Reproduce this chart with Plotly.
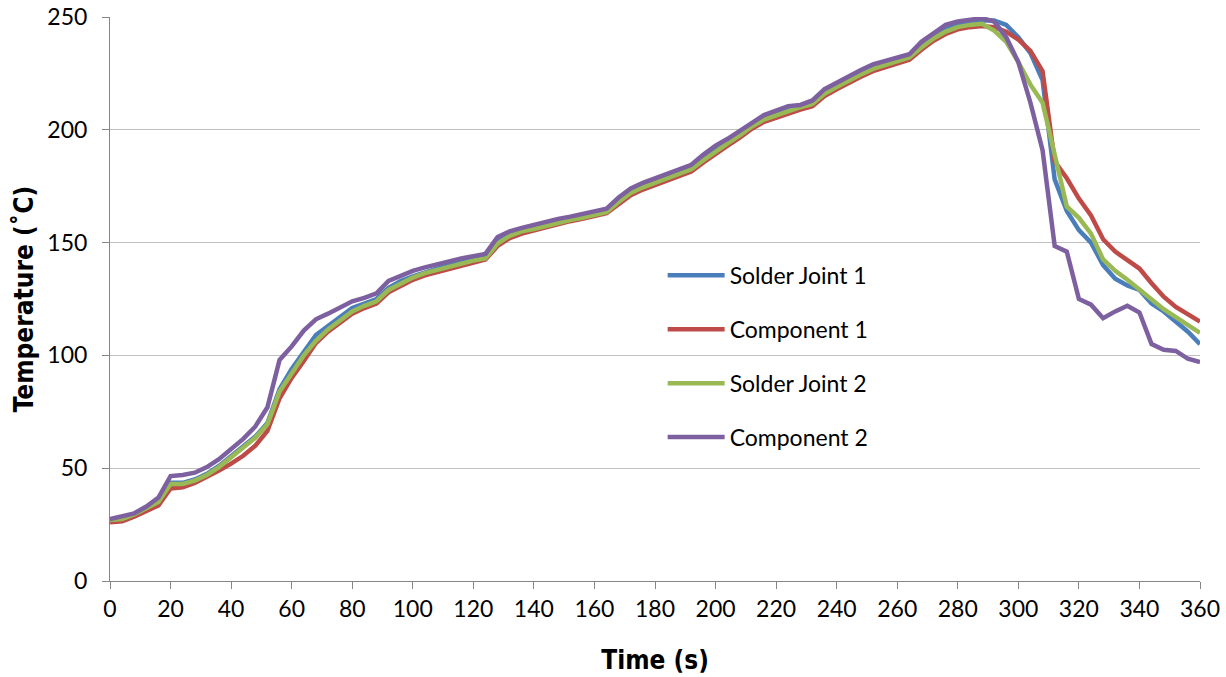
import plotly.graph_objects as go

# Reflow profile: time (s) and measured temperatures (°C)
time_s = list(range(0, 361, 4))

solder_joint_1 = [
    27, 27.5, 29.5, 32, 35, 43.5, 43.5, 45, 47.5, 51,
    55.5, 59.5, 64, 70, 85, 94, 101.5, 109, 113, 117,
    121, 123, 125, 130, 133, 135, 137, 138.5, 140, 141.5,
    142.5, 143.5, 150.5, 153.5, 155, 156.5, 158, 159.5, 160.5, 161.5,
    162.5, 164, 168.5, 172.5, 175, 177, 179, 181.5, 183, 187.5,
    191.5, 194.5, 198, 202, 205, 207, 209, 210, 212, 216.5,
    219.5, 222.5, 225, 227.5, 229, 230.5, 232.5, 237.5, 241.5, 244.5,
    246.5, 247.5, 248.5, 248.5, 246.5, 241, 234, 222, 178, 164,
    155.5, 150, 140, 134, 131, 129, 123, 119.5, 115, 110.5,
    105,
]

component_1 = [
    26, 26.5, 28.5, 31, 33.5, 41, 41.5, 43.5, 46, 49,
    52, 55.5, 60, 66.5, 81, 90, 97.5, 105.5, 110.5, 114.5,
    118.5, 121, 123, 128, 131, 133.5, 135.5, 137, 138.5, 140,
    141.5, 142.5, 148.5, 152, 154, 155.5, 157, 158.5, 159.5, 160.5,
    161.5, 163, 167, 171, 173.5, 175.5, 177.5, 180, 181.5, 185.5,
    189.5, 193, 196.5, 200.5, 203.5, 205.5, 207.5, 209, 210.5, 215,
    218, 221, 223.5, 226, 227.5, 229, 231, 235.5, 239.5, 242.5,
    244.5, 245.5, 246, 245.5, 243.5, 240, 235, 226, 186, 178.5,
    169.5, 162, 151.5, 146, 142, 138.5, 132, 126, 121.5, 118,
    115,
]

solder_joint_2 = [
    27, 27.5, 29.5, 32, 35, 43, 43, 44.5, 47, 50.5,
    55, 59, 63.5, 69.5, 84, 92, 100, 106.5, 111.5, 115.5,
    119.5, 122, 124, 129, 132, 134.5, 136.5, 138, 139.5, 141,
    142, 143, 149.5, 153, 155, 156, 157.5, 159, 160, 161,
    162, 163.5, 168, 172, 174.5, 176.5, 178.5, 181, 182.5, 186.5,
    190.5, 194, 197.5, 201.5, 204.5, 206.5, 208.5, 210, 211.5, 216,
    219, 222, 224.5, 227, 228.5, 230, 232, 236.5, 240.5, 243.5,
    245.5, 246.5, 247, 244, 239, 230, 220, 212, 188, 166,
    161, 154, 142.5, 137.5, 133.5, 129, 124.5, 120.5, 117, 113.5,
    110,
]

component_2 = [
    27.5, 28.5, 30, 33, 37, 46.5, 47, 48, 50.5, 54,
    58.5, 63, 68.5, 77, 98, 104, 111, 116, 118.5, 121.5,
    124, 125.5, 127.5, 133, 135.5, 137.5, 139, 140.5, 141.5, 143,
    144, 145, 152.5, 155, 156.5, 158, 159.5, 160.5, 161.5, 162.5,
    163.5, 165, 170, 174, 176.5, 178.5, 180.5, 183, 184.5, 189,
    193, 196, 199.5, 203.5, 206.5, 208.5, 210.5, 211, 213, 218,
    221, 224, 226.5, 229, 230.5, 232, 233.5, 239, 243, 246.5,
    248, 249, 249.5, 248, 241, 230, 212, 191, 148.5, 146,
    125, 122.5, 116.5, 119.5, 122, 119, 105, 102.5, 102, 98.5,
    97,
]

series_names = ["Solder Joint 1", "Component 1", "Solder Joint 2", "Component 2"]
series_values = [solder_joint_1, component_1, solder_joint_2, component_2]
series_colors = ["#4a7ebb", "#be4b48", "#98b954", "#7d60a0"]

x_ticks = list(range(0, 361, 20))
y_ticks = list(range(0, 251, 50))

fig = go.Figure()
for i, (name, vals, color) in enumerate(zip(series_names, series_values, series_colors)):
    fig.add_trace(go.Scatter(
        x=time_s, y=vals, name=name, mode="lines",
        line=dict(color=color, width=4.5),
        legendgroup=f"g{i}",
    ))

body_family = "Lato, Carlito, Calibri, sans-serif"
axis_font = dict(family=body_family, size=23, color="#000000")
title_font = dict(family="DejaVu Sans Condensed, DejaVu Sans, Tahoma, sans-serif",
                  size=26, color="#000000")

fig.update_layout(
    width=1226, height=677,
    margin=dict(l=110, r=26, t=17, b=96),
    paper_bgcolor="white", plot_bgcolor="white",
    showlegend=True,
    legend=dict(
        x=0.507, y=0.58, xanchor="left", yanchor="top",
        bgcolor="rgba(0,0,0,0)",
        font=dict(family=body_family, size=23, color="#000000"),
        itemwidth=57,
        traceorder="grouped",
        tracegroupgap=21,
    ),
    xaxis=dict(
        range=[0, 360], tickvals=x_ticks, ticktext=[str(v) for v in x_ticks],
        showgrid=False, zeroline=False, automargin=False,
        showline=True, linecolor="#868686", linewidth=1,
        ticks="outside", ticklen=7, tickcolor="#868686",
        tickfont=axis_font,
        title=dict(text="<b>Time (s)</b>", font=title_font, standoff=30),
    ),
    yaxis=dict(
        range=[0, 250], tickvals=y_ticks, ticktext=[str(v) for v in y_ticks],
        showgrid=True, gridcolor="#c0c0c0", gridwidth=1,
        zeroline=False, automargin=False,
        showline=True, linecolor="#868686", linewidth=1,
        ticks="outside", ticklen=7, tickcolor="#868686",
        ticklabelstandoff=10,
        tickfont=axis_font,
        title=dict(text="<b>Temperature (˚C)</b>", font=title_font, standoff=6),
    ),
)

fig.write_html("out.html")
